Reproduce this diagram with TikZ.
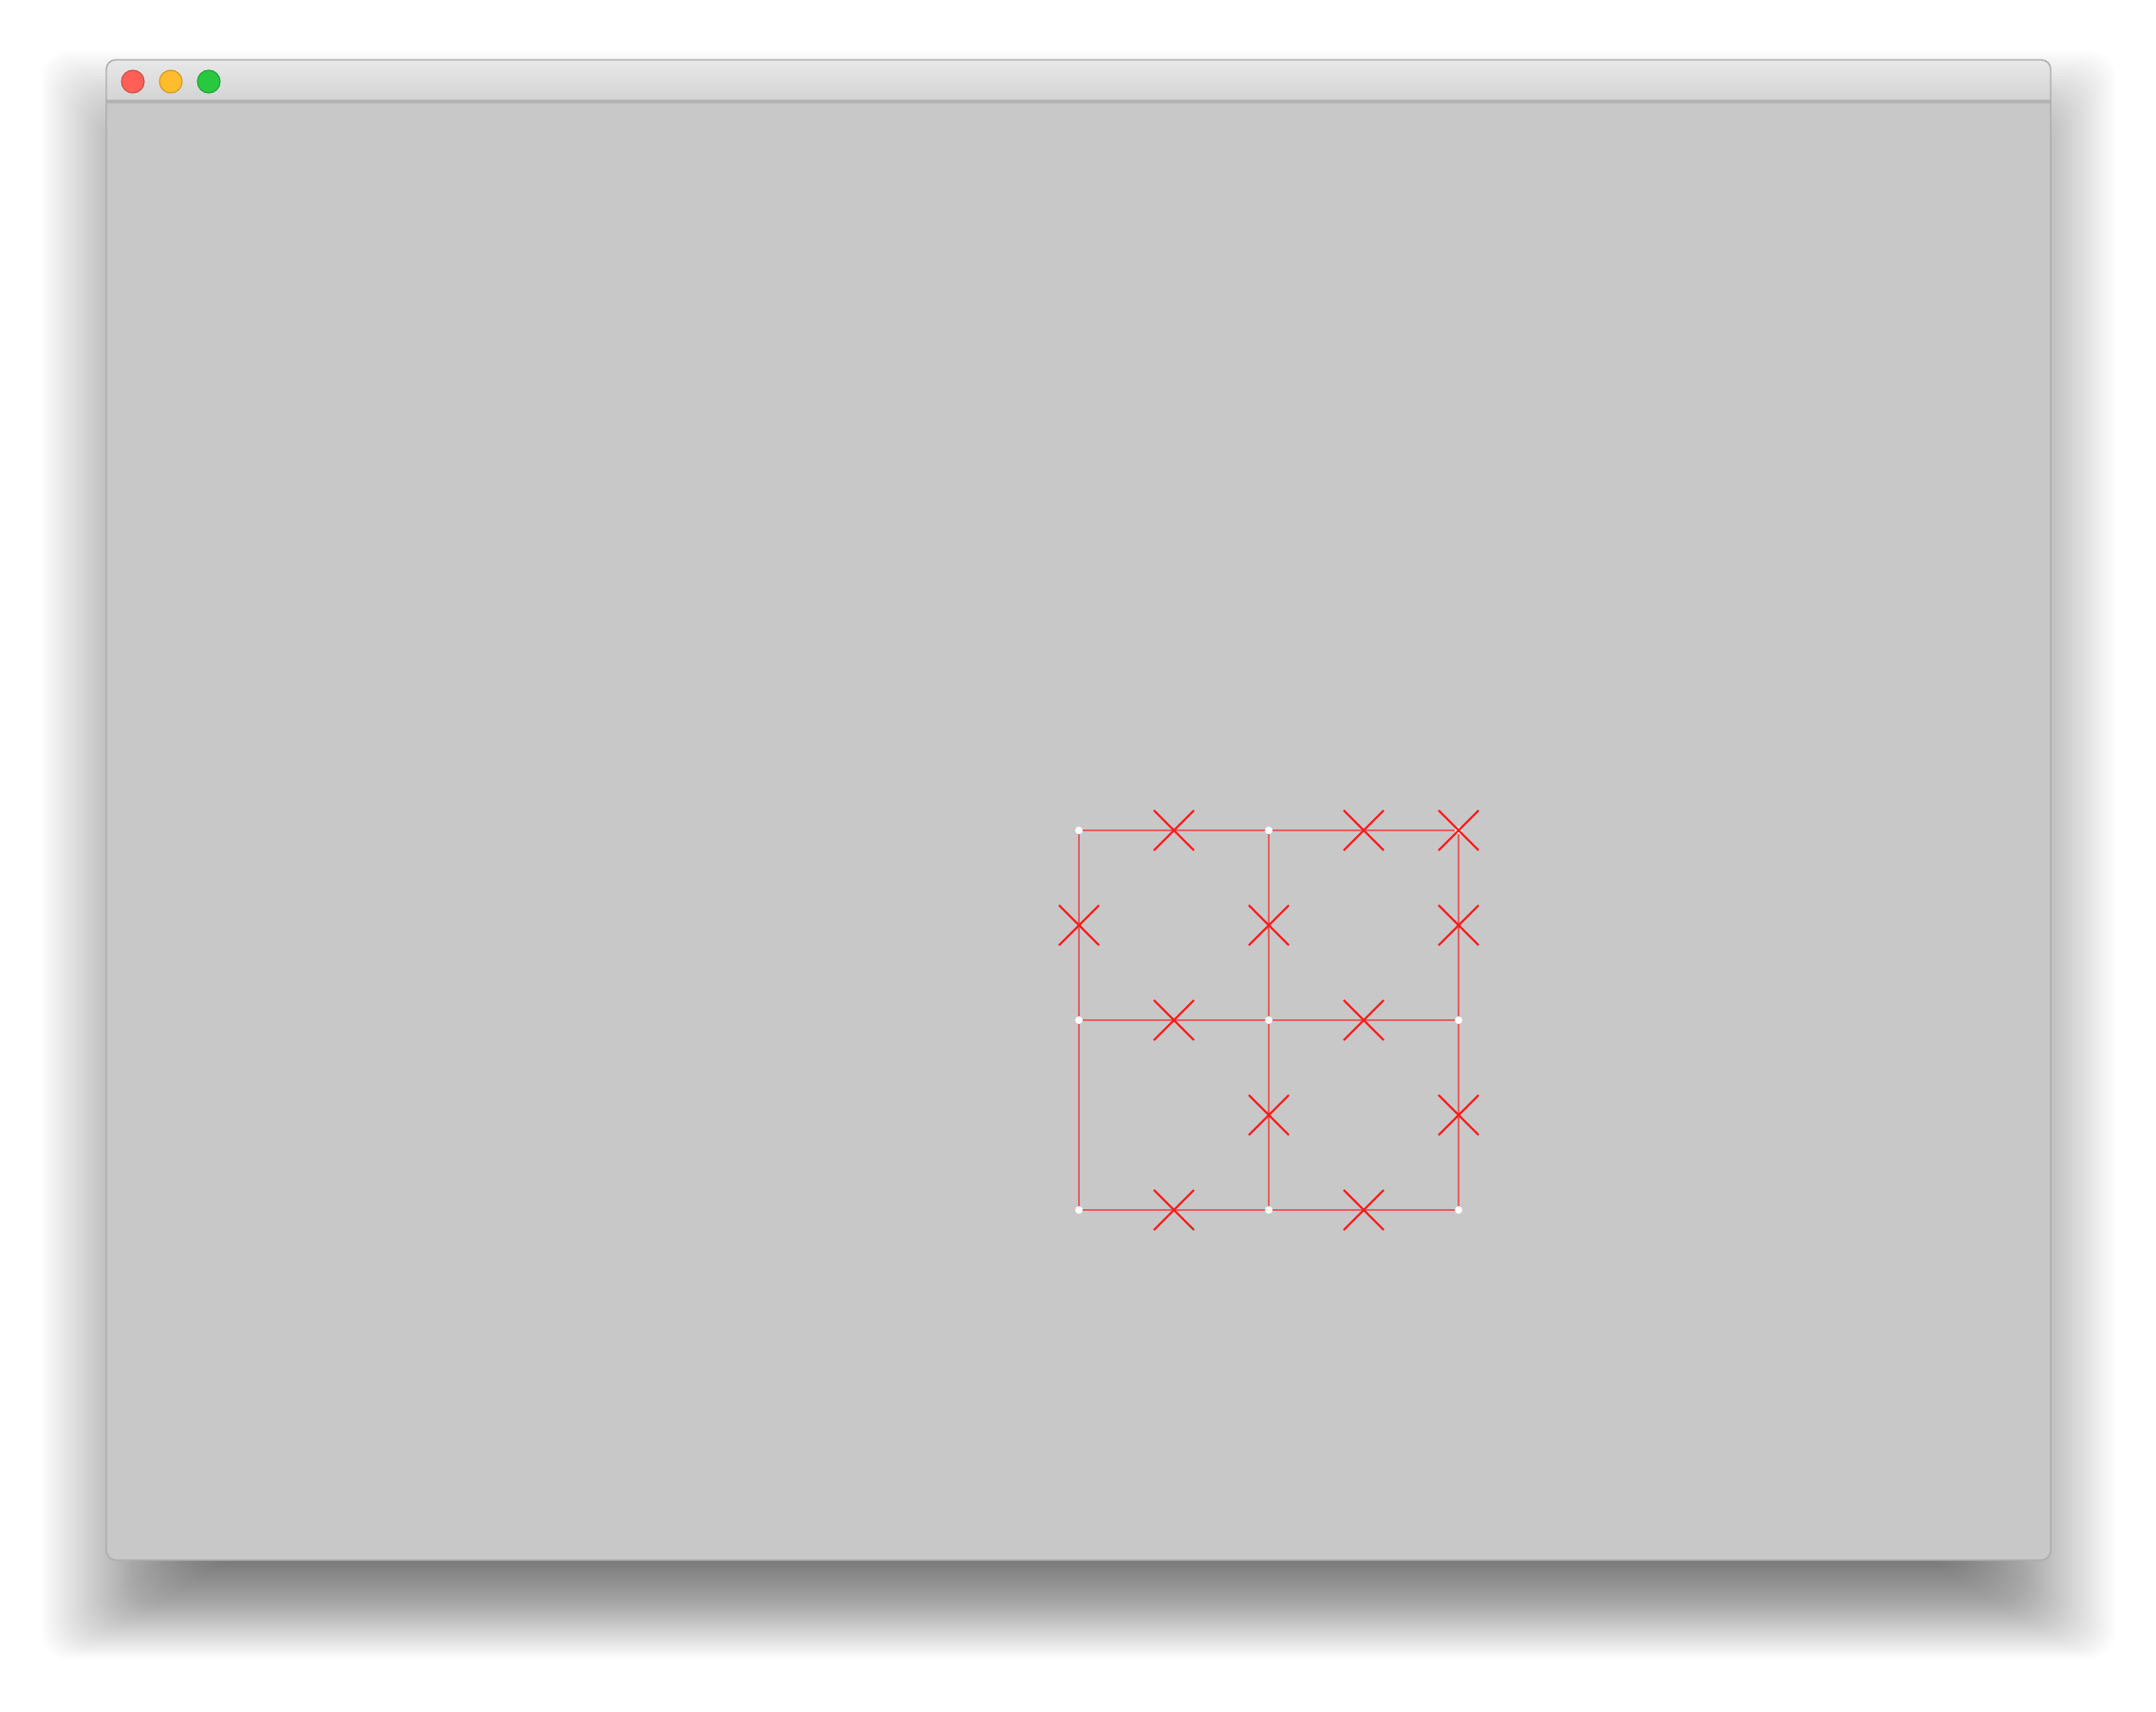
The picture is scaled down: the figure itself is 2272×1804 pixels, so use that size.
\documentclass[tikz,border=0pt]{standalone}
\usetikzlibrary{calc,shapes.misc}

\begin{document}
\begin{tikzpicture}[
    x=0.01cm, y=-0.01cm,
    gridline/.style={draw=gridred, line width=0.6pt},
    xmark/.style={draw=markred, cross out, minimum size=0.4cm, inner sep=0pt, line width=0.6pt},
    vertex/.style={circle, fill=white, minimum size=0.08cm, inner sep=0pt},
    light/.style={circle, draw=#1!80!black, fill=#1, minimum size=0.24cm, inner sep=0pt, line width=0.3pt},
  ]
    \definecolor{winbody}{HTML}{C8C8C8}
    \definecolor{winedge}{HTML}{ABABAB}
    \definecolor{titletop}{HTML}{E9E8E9}
    \definecolor{titlebot}{HTML}{D4D3D4}
    \definecolor{titleline}{HTML}{B3B3B3}
    \definecolor{closered}{HTML}{FF5F57}
    \definecolor{minyellow}{HTML}{FFBD2E}
    \definecolor{zoomgreen}{HTML}{28C940}
    \definecolor{gridred}{HTML}{E66060}
    \definecolor{markred}{HTML}{FF1A1A}

    \fill[white] (0,0) rectangle (2272,1804);
    \useasboundingbox (0,0) rectangle (2272,1804);

    % drop shadow under the window
    \foreach \i in {0,...,59}
      \fill[black, fill opacity=0.012, rounded corners=0.3cm]
        (240-3.33*\i, 250-3.33*\i) rectangle (2033+3.33*\i, 1630+2*\i);

    % window with title bar
    \fill[winbody, rounded corners=0.1cm] (112,63) rectangle (2161,1644);
    \begin{scope}
      \clip[rounded corners=0.1cm] (112,63) rectangle (2161,1644);
      \shade[top color=titletop, bottom color=titlebot] (112,63) rectangle (2161,107);
    \end{scope}
    \draw[titleline, line width=1pt] (112,107) -- (2161,107);
    \draw[winedge, line width=0.4pt, rounded corners=0.1cm] (112,63) rectangle (2161,1644);

    % traffic lights
    \node[light=closered] (close) at (140,86) {};
    \node[light=minyellow] (minimize) at (180,86) {};
    \node[light=zoomgreen] (zoom) at (220,86) {};

    % grid points p<row><col>
    \foreach \r in {1,2,3}
      \foreach \c in {1,2,3}
        \coordinate (p\r\c) at ({937+200*\c},{675+200*\r});

    \foreach \r in {1,2,3}
      \draw[gridline] (p\r1) -- (p\r3);
    \foreach \c in {1,2,3}
      \draw[gridline] (p1\c) -- (p3\c);

    \foreach \r in {1,2,3}
      \foreach \c in {1,2,3}
        \node[vertex] (v\r\c) at (p\r\c) {};

    % crosses on the edges
    \foreach \a/\b [count=\k] in {p11/p12, p12/p13, p13/p13, p11/p21, p12/p22, p13/p23,
                                  p21/p22, p22/p23, p22/p32, p23/p33, p31/p32, p32/p33}
      \node[xmark] (x\k) at ($(\a)!0.5!(\b)$) {};
  \end{tikzpicture}
\end{document}
